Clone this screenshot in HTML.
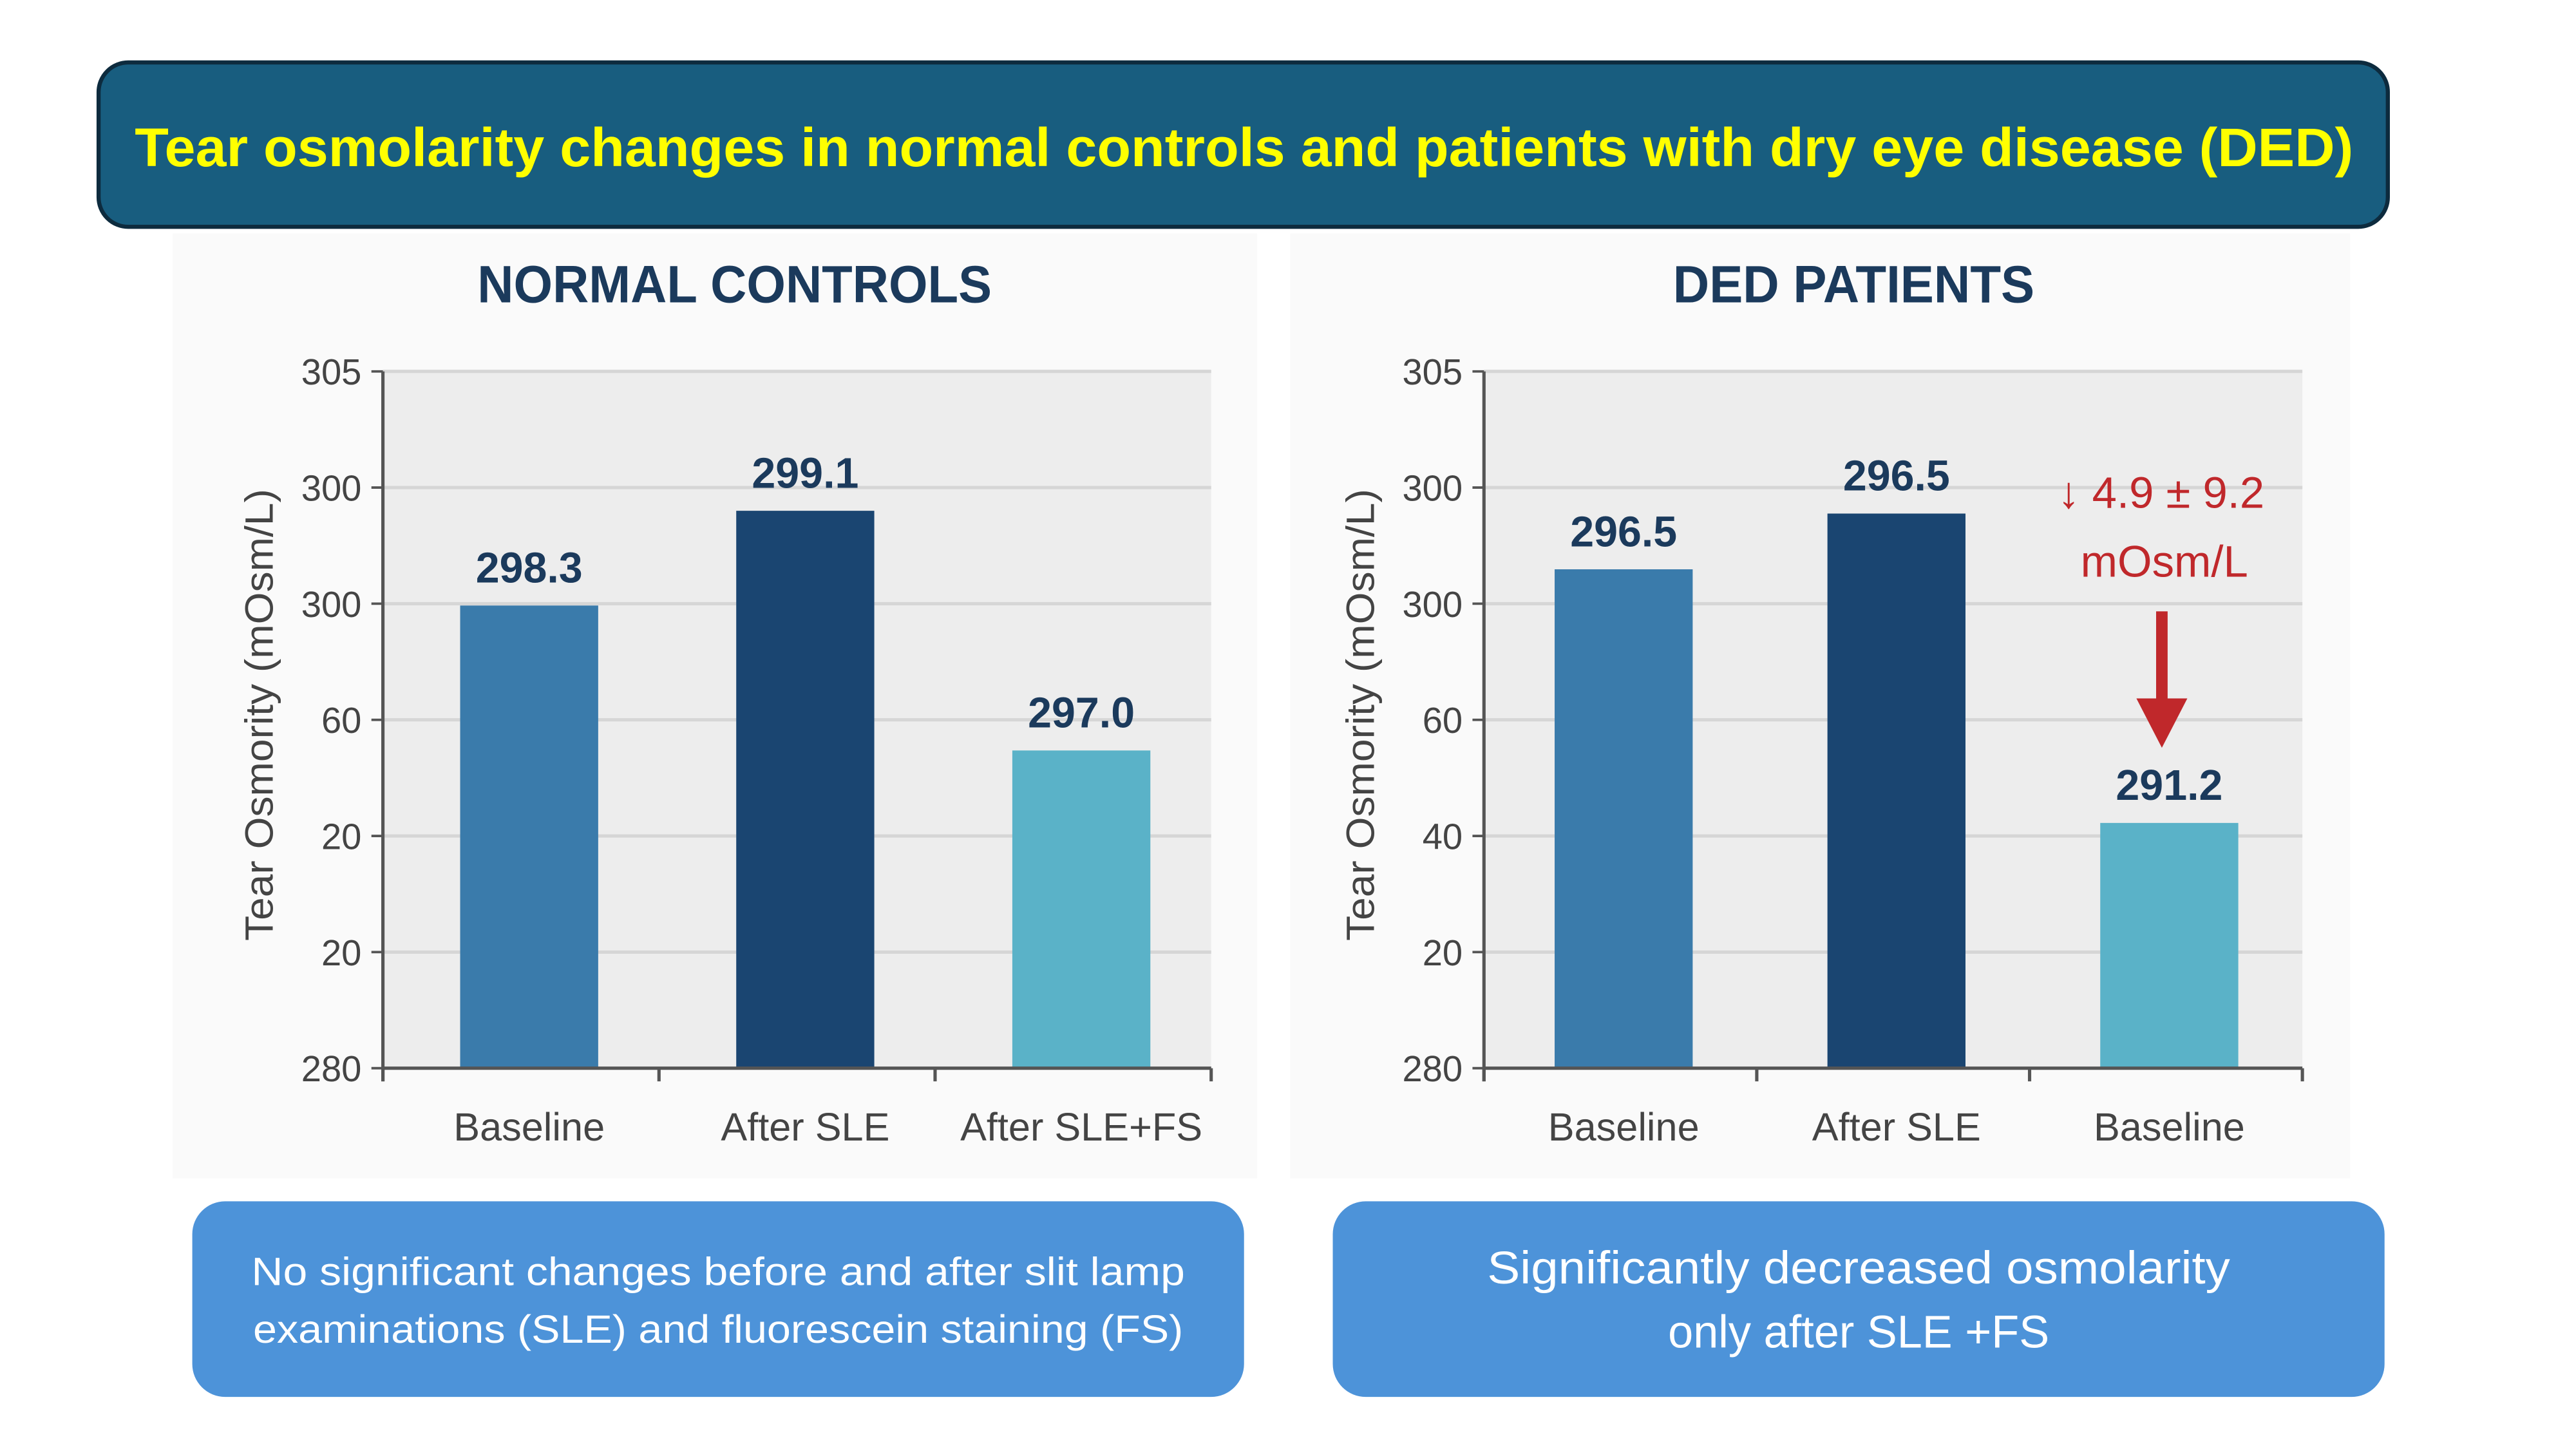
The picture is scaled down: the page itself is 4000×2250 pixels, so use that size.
<!DOCTYPE html>
<html><head><meta charset="utf-8"><style>
html,body{margin:0;padding:0;background:#fff;}
svg{display:block;}
text{font-family:"Liberation Sans",sans-serif;}
</style></head><body>
<svg id="root" width="4000" height="2250" viewBox="0 0 1567.5 881.7" xmlns="http://www.w3.org/2000/svg">
<rect x="0" y="0" width="1567.5" height="881.7" fill="#ffffff"/>
<rect x="60" y="38" width="1393" height="100" rx="18" fill="#185d7f" stroke="#0d2b3e" stroke-width="2.5"/>
<text x="757" y="101" text-anchor="middle" font-size="33" font-weight="bold" fill="#ffff00" textLength="1350" lengthAdjust="spacingAndGlyphs">Tear osmolarity changes in normal controls and patients with dry eye disease (DED)</text>
<rect x="105" y="142" width="660" height="575" fill="#fafafa"/>
<rect x="785" y="142" width="645" height="575" fill="#fafafa"/>
<g id="charts"></g>
<rect x="117" y="731" width="640" height="119" rx="20" fill="#4d93d9"/>
<text x="437" y="782" text-anchor="middle" font-size="24" fill="#fff" textLength="568" lengthAdjust="spacingAndGlyphs">No significant changes before and after slit lamp</text>
<text x="437" y="817" text-anchor="middle" font-size="24" fill="#fff" textLength="566" lengthAdjust="spacingAndGlyphs">examinations (SLE) and fluorescein staining (FS)</text>
<rect x="811" y="731" width="640" height="119" rx="20" fill="#4d93d9"/>
<text x="1131" y="781" text-anchor="middle" font-size="28" fill="#fff" textLength="452" lengthAdjust="spacingAndGlyphs">Significantly decreased osmolarity</text>
<text x="1131" y="820" text-anchor="middle" font-size="28" fill="#fff" textLength="232" lengthAdjust="spacingAndGlyphs">only after SLE +FS</text>
</svg>
<script>
// Left chart data
const leftCategories = ["Baseline", "After SLE", "After SLE+FS"];
const leftBarHeights = [296.6, 300.0, 291.4];
const leftValueLabels = ["298.3", "299.1", "297.0"];
// Right chart data
const rightCategories = ["Baseline", "After SLE", "Baseline"];
const rightBarHeights = [297.9, 299.9, 288.8];
const rightValueLabels = ["296.5", "296.5", "291.2"];
// Axis tick labels (as printed)
const leftTickLabels = ["280", "20", "20", "60", "300", "300", "305"];
const rightTickLabels = ["280", "20", "40", "60", "300", "300", "305"];
const axisMin = 280, axisMax = 305;
const barColors = ["#3a7bab", "#1a4571", "#5ab2c8"];

const NS = "http://www.w3.org/2000/svg";
const root = document.getElementById("charts");
function mk(tag, attrs, parent, txt) {
  const e = document.createElementNS(NS, tag);
  for (const k in attrs) e.setAttribute(k, attrs[k]);
  if (txt !== undefined) e.textContent = txt;
  (parent || root).appendChild(e);
  return e;
}
function drawChart(cfg) {
  const g = mk("g", {});
  
  
  const x0 = cfg.x0, x1 = cfg.x1, yTop = 226, yBot = 650;
  const y = v => yBot - (v - axisMin) / (axisMax - axisMin) * (yBot - yTop);
  const band = (x1 - x0) / cfg.categories.length;
  const xc = i => x0 + band * (i + 0.5);
  const bg = mk("rect", {x: x0, y: yTop, width: x1 - x0, height: yBot - yTop, fill: "#ededed"}, g);
  
  
  const t = mk("text", {x: cfg.titleX, y: 184, "text-anchor": "middle", "font-size": 32, "font-weight": "bold", fill: "#1b3a5c", textLength: cfg.titleLen, lengthAdjust: "spacingAndGlyphs"}, g, cfg.title);
  
  
  const n = cfg.ticks.length;
  cfg.ticks.forEach((lab, i) => {
    const v = axisMin + (axisMax - axisMin) * i / (n - 1);
    const yy = y(v);
    if (i > 0) {
      const gl = mk("line", {x1: x0, x2: x1, y1: yy, y2: yy, stroke: "#d6d6d6", "stroke-width": 2}, g);
      
      
    }
    mk("line", {x1: x0 - 7, x2: x0, y1: yy, y2: yy, stroke: "#555", "stroke-width": 1.5}, g);
    const tl = mk("text", {x: x0 - 13, y: yy + 8, "text-anchor": "end", "font-size": 22, fill: "#444"}, g, lab);
    
    
  });
  const yt = mk("text", {transform: `translate(${x0 - 67},435) rotate(-90)`, "text-anchor": "middle", "font-size": 24, fill: "#444", textLength: 275, lengthAdjust: "spacingAndGlyphs"}, g, "Tear Osmority (mOsm/L)");
  
  
  cfg.heights.forEach((h, i) => {
    const bw = 84;
    const b = mk("rect", {x: xc(i) - bw / 2 + cfg.offset, y: y(h), width: bw, height: yBot - y(h), fill: barColors[i]}, g);
    
    
    const vl = mk("text", {x: xc(i) + cfg.offset, y: y(h) - 14, "text-anchor": "middle", "font-size": 26, "font-weight": "bold", fill: "#1b3a5c"}, g, cfg.labels[i]);
    
    
    const xl = mk("text", {x: xc(i) + cfg.offset, y: 694, "text-anchor": "middle", "font-size": 24, fill: "#444"}, g, cfg.categories[i]);
    
    
  });
  mk("line", {x1: x0, x2: x0, y1: yTop, y2: yBot + 8, stroke: "#555", "stroke-width": 2}, g);
  mk("line", {x1: x0, x2: x1, y1: yBot, y2: yBot, stroke: "#555", "stroke-width": 2}, g);
  for (let i = 0; i <= cfg.categories.length; i++) {
    mk("line", {x1: x0 + band * i, x2: x0 + band * i, y1: yBot, y2: yBot + 8, stroke: "#555", "stroke-width": 2}, g);
  }
  return {g, y, xc};
}
drawChart({name: "normal-controls-chart", x0: 233, x1: 737, title: "NORMAL CONTROLS", titleX: 447, titleLen: 313, categories: leftCategories, heights: leftBarHeights, labels: leftValueLabels, ticks: leftTickLabels, offset: 5});
const r = drawChart({name: "ded-patients-chart", x0: 903, x1: 1401, title: "DED PATIENTS", titleX: 1128, titleLen: 220, categories: rightCategories, heights: rightBarHeights, labels: rightValueLabels, ticks: rightTickLabels, offset: 2});
// annotation
const a = mk("g", {});


mk("text", {x: 1315, y: 309, "text-anchor": "middle", "font-size": 27, fill: "#c0282b"}, a, "↓ 4.9 ± 9.2");
mk("text", {x: 1317, y: 351, "text-anchor": "middle", "font-size": 27, fill: "#c0282b"}, a, "mOsm/L");
mk("rect", {x: 1312, y: 372, width: 7, height: 56, fill: "#c0282b"}, a);
mk("polygon", {points: "1300,425 1331,425 1315.5,455", fill: "#c0282b"}, a);
</script>
</body></html>
